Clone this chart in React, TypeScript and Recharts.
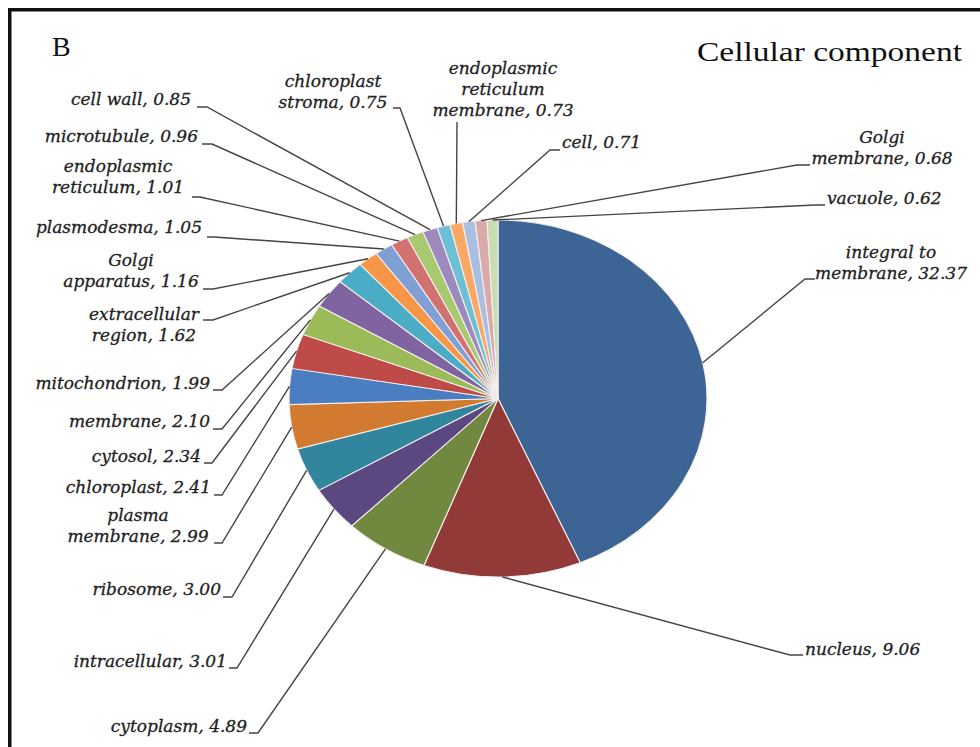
import React from "react";
import { PieChart, Pie, Cell, Sector } from "recharts";

const categories: string[] = [
  "integral to membrane", "nucleus", "cytoplasm", "intracellular", "ribosome",
  "plasma membrane", "chloroplast", "cytosol", "membrane", "mitochondrion",
  "extracellular region", "Golgi apparatus", "plasmodesma", "endoplasmic reticulum",
  "microtubule", "cell wall", "chloroplast stroma", "endoplasmic reticulum membrane",
  "cell", "Golgi membrane", "vacuole",
];

const values: number[] = [
  32.37, 9.06, 4.89, 3.01, 3.0, 2.99, 2.41, 2.34, 2.1, 1.99, 1.62,
  1.16, 1.05, 1.01, 0.96, 0.85, 0.75, 0.73, 0.71, 0.68, 0.62,
];

// label text broken into lines (value is appended to the last line)
const labelLines: string[][] = [
  ["integral to", "membrane"], ["nucleus"], ["cytoplasm"], ["intracellular"], ["ribosome"],
  ["plasma", "membrane"], ["chloroplast"], ["cytosol"], ["membrane"], ["mitochondrion"],
  ["extracellular", "region"], ["Golgi", "apparatus"], ["plasmodesma"], ["endoplasmic", "reticulum"],
  ["microtubule"], ["cell wall"], ["chloroplast", "stroma"], ["endoplasmic", "reticulum", "membrane"],
  ["cell"], ["Golgi", "membrane"], ["vacuole"],
];

const colors: string[] = [
  "#3C6494", "#923A38", "#71893F", "#5B4880", "#31859C", "#D27A30",
  "#4A7EC0", "#BE4B48", "#9BBB59", "#8064A2", "#4BACC6", "#F79646",
  "#7F9FD5", "#D27270", "#A8C96F", "#9C89BE", "#6CC0D6", "#F9A866",
  "#A9BFE2", "#D9AAAA", "#C9DDB0",
];

// label placement (layout only): leader end (ex,ey), tick end x (tx), text x (ax), anchor, first baseline (by)
type Lay = { ex: number; ey: number; tx: number; ax: number; anchor: "start" | "middle" | "end"; by: number };
const labelLayout: Lay[] = [
  { ex: 805, ey: 279, tx: 815, ax: 891, anchor: "middle", by: 258 },
  { ex: 790, ey: 655, tx: 803, ax: 805, anchor: "start", by: 655 },
  { ex: 258, ey: 733, tx: 249, ax: 247, anchor: "end", by: 732 },
  { ex: 237, ey: 668, tx: 229, ax: 227, anchor: "end", by: 667 },
  { ex: 232, ey: 597, tx: 223, ax: 221, anchor: "end", by: 595 },
  { ex: 222, ey: 543, tx: 214, ax: 138, anchor: "middle", by: 521 },
  { ex: 222, ey: 495, tx: 214, ax: 211, anchor: "end", by: 493 },
  { ex: 212, ey: 463, tx: 204, ax: 201, anchor: "end", by: 462 },
  { ex: 222, ey: 429, tx: 213, ax: 210, anchor: "end", by: 427 },
  { ex: 222, ey: 390, tx: 213, ax: 210, anchor: "end", by: 389 },
  { ex: 213, ey: 320, tx: 203, ax: 144, anchor: "middle", by: 320 },
  { ex: 213, ey: 289, tx: 203, ax: 131, anchor: "middle", by: 266 },
  { ex: 214, ey: 237, tx: 207, ax: 202, anchor: "end", by: 233 },
  { ex: 200, ey: 197, tx: 192, ax: 118, anchor: "middle", by: 172 },
  { ex: 212, ey: 144, tx: 202, ax: 198, anchor: "end", by: 142 },
  { ex: 207, ey: 107, tx: 197, ax: 191, anchor: "end", by: 105 },
  { ex: 400, ey: 108, tx: 393, ax: 333, anchor: "middle", by: 87 },
  { ex: 457, ey: 122, tx: 457, ax: 503, anchor: "middle", by: 74 },
  { ex: 550, ey: 150, tx: 560, ax: 562, anchor: "start", by: 148 },
  { ex: 797, ey: 165, tx: 810, ax: 882, anchor: "middle", by: 143 },
  { ex: 815, ey: 205, tx: 825, ax: 827, anchor: "start", by: 204 },
];

const W = 980;
const H = 747;
const CX = 498;
const CY = 398.5;
const R = 178.5;
const SX = 209 / 178.5;
const RAD = Math.PI / 180;

const data = categories.map((name, i) => ({ name, value: values[i] }));

const EllipseSector = (props: any) => {
  const { cx, cy } = props;
  return (
    <g transform={`translate(${cx} ${cy}) scale(${SX} 1) translate(${-cx} ${-cy})`}>
      <Sector {...props} stroke="#f4eeee" strokeWidth={1} />
    </g>
  );
};

const renderLabel = (props: any) => {
  const i: number = props.index;
  const L = labelLayout[i];
  if (!L) return null;
  const cx = props.cx ?? CX;
  const cy = props.cy ?? CY;
  const r = props.outerRadius ?? R;
  const mid = props.midAngle;
  const px = cx + r * SX * Math.cos(-mid * RAD);
  const py = cy + r * Math.sin(-mid * RAD);
  const lines = [...labelLines[i]];
  lines[lines.length - 1] = `${lines[lines.length - 1]}, ${values[i].toFixed(2)}`;
  return (
    <g key={`lbl-${i}`}>
      <polyline
        points={`${px},${py} ${L.ex},${L.ey} ${L.tx},${L.ey}`}
        fill="none"
        stroke="#444"
        strokeWidth={1.4}
      />
      <text
        x={L.ax}
        y={L.by}
        textAnchor={L.anchor}
        fontFamily="DejaVu Serif"
        fontStyle="italic"
        fontSize={17}
        fill="#222"
        stroke="#222"
        strokeWidth={0.3}
      >
        {lines.map((t, k) => (
          <tspan key={k} x={L.ax} y={L.by + k * 21}>
            {t}
          </tspan>
        ))}
      </text>
    </g>
  );
};

export default function App() {
  return (
    <div style={{ position: "absolute", left: 0, top: 0, width: W, height: H, background: "#fff", overflow: "hidden" }}>
      <svg width={W} height={H} style={{ position: "absolute", left: 0, top: 0 }}>
        <rect x={9.75} y={9.75} width={1100} height={1100} fill="none" stroke="#111" strokeWidth={3.5} />
        <text x={52} y={56} fontFamily="Liberation Serif" fontSize={28} fill="#111">
          B
        </text>
        <text
          x={697}
          y={61}
          fontFamily="Liberation Serif"
          fontSize={27}
          fill="#111"
          textLength={265}
          lengthAdjust="spacingAndGlyphs"
        >
          Cellular component
        </text>
      </svg>
      <div style={{ position: "absolute", left: 0, top: 0 }}>
        <PieChart width={W} height={H} margin={{ top: 0, right: 0, bottom: 0, left: 0 }}>
          <Pie
            data={data}
            dataKey="value"
            nameKey="name"
            cx={CX}
            cy={CY}
            outerRadius={R}
            startAngle={90}
            endAngle={-270}
            isAnimationActive={false}
            label={renderLabel}
            labelLine={false}
            shape={EllipseSector}
            stroke="#f4eeee"
            strokeWidth={1}
          >
            {data.map((d, i) => (
              <Cell key={d.name} fill={colors[i]} />
            ))}
          </Pie>
        </PieChart>
      </div>
    </div>
  );
}
